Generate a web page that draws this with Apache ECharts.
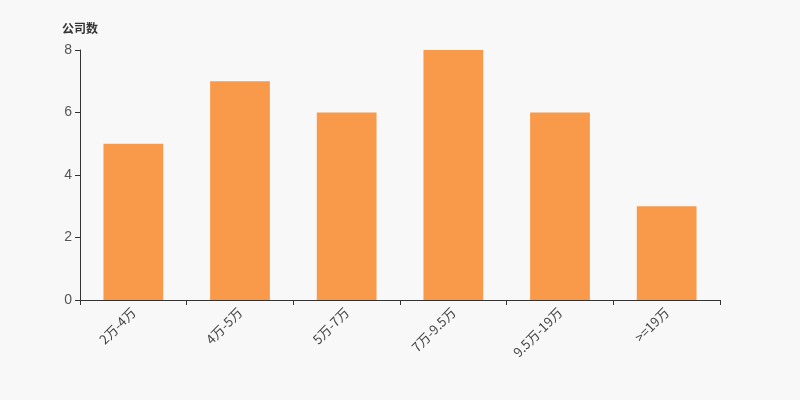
<!DOCTYPE html>
<html><head><meta charset="utf-8">
<script src="https://cdn.jsdelivr.net/npm/echarts@6/dist/echarts.min.js"></script>
<style>html,body{margin:0;padding:0;background:#f8f8f8}#c{width:800px;height:400px}</style>
</head><body><div id="c"></div>
<script>
const categories = ['2万-4万','4万-5万','5万-7万','7万-9.5万','9.5万-19万','>=19万'];
const values = [5,7,6,8,6,3];
const chart = echarts.init(document.getElementById('c'));
chart.setOption({
  backgroundColor:'#f8f8f8',
  animation:false,
  grid:{left:80,right:80,top:50,bottom:100},
  xAxis:{type:'category',data:categories,
    axisLine:{lineStyle:{color:'#333'}},
    axisTick:{show:true,lineStyle:{color:'#333'}},
    axisLabel:{rotate:45,color:'#444',fontSize:13,margin:10,fontFamily:'Noto Sans CJK SC'}},
  yAxis:{type:'value',name:'公司数',min:0,max:8,interval:2,nameGap:16,
    nameTextStyle:{fontWeight:'bold',color:'#333',fontSize:12,align:'right',padding:[0,-18,0,0],fontFamily:'Noto Sans CJK SC'},
    axisLine:{show:true,lineStyle:{color:'#333'}},
    axisTick:{show:true},
    splitLine:{show:false},
    axisLabel:{color:'#555',fontSize:14}},
  series:[{type:'bar',data:values,barWidth:'56%',itemStyle:{color:'#f89a4a'}}]
});
</script></body></html>
